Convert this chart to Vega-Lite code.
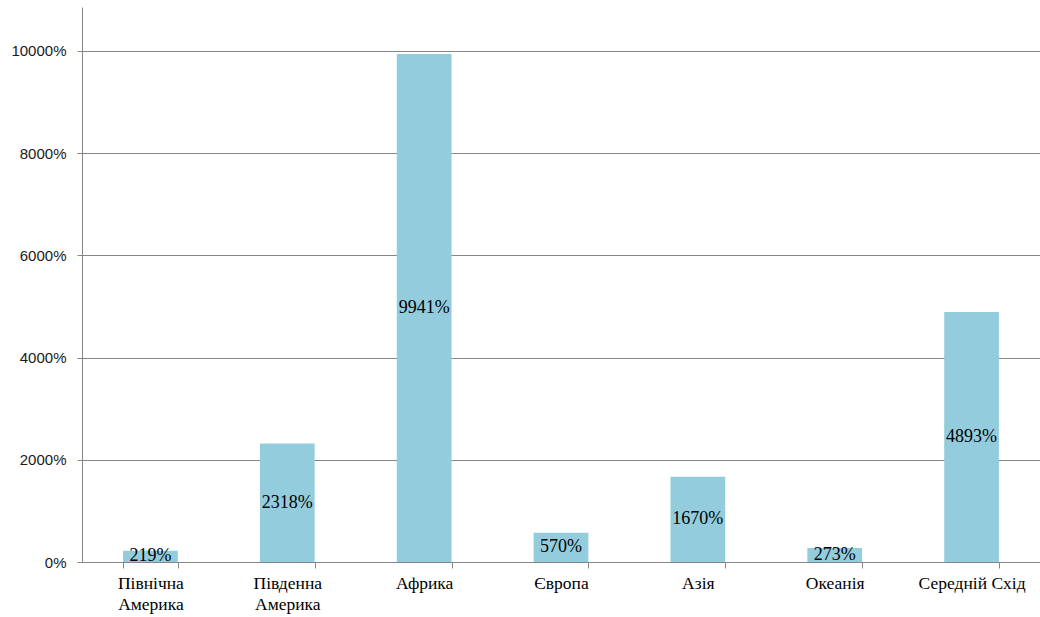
{
  "$schema": "https://vega.github.io/schema/vega-lite/v6.json",
  "width": 958,
  "height": 555,
  "autosize": {"type": "none"},
  "padding": {"left": 82, "top": 7, "right": 0, "bottom": 55},
  "background": "white",
  "config": {
    "view": {"stroke": null},
    "axis": {"domainColor": "#868686", "tickColor": "#868686", "gridColor": "#868686", "gridWidth": 1, "domainWidth": 1, "tickWidth": 1}
  },
  "data": {
    "values": [
      {"region": "Північна Америка", "value": 219},
      {"region": "Південна Америка", "value": 2318},
      {"region": "Африка", "value": 9941},
      {"region": "Європа", "value": 570},
      {"region": "Азія", "value": 1670},
      {"region": "Океанія", "value": 273},
      {"region": "Середній Схід", "value": 4893}
    ]
  },
  "transform": [
    {"calculate": "datum.value + '%'", "as": "label"},
    {"calculate": "datum.value / 2", "as": "mid"}
  ],
  "encoding": {
    "x": {
      "field": "region",
      "type": "nominal",
      "sort": null,
      "scale": {"paddingInner": 0.6, "paddingOuter": 0.3},
      "axis": {
        "title": null,
        "labelAngle": 0,
        "tickBand": "extent",
        "tickSize": 6,
        "labelPadding": 6,
        "labelFont": "Liberation Serif",
        "labelFontSize": 17.5,
        "labelColor": "#000000",
        "labelLineHeight": 21,
        "labelExpr": "indexof(datum.label, 'Америка') > 0 ? split(datum.label, ' ') : datum.label"
      }
    }
  },
  "layer": [
    {
      "mark": {"type": "bar", "color": "#93CDDD"},
      "encoding": {
        "y": {
          "field": "value",
          "type": "quantitative",
          "scale": {"domain": [0, 10860], "nice": false},
          "axis": {
            "title": null,
            "values": [0, 2000, 4000, 6000, 8000, 10000],
            "format": "d",
            "labelExpr": "datum.label + '%'",
            "grid": true,
            "tickSize": 5,
            "labelPadding": 11,
            "labelFont": "Liberation Sans",
            "labelFontSize": 15,
            "labelColor": "#1a1a1a"
          }
        }
      }
    },
    {
      "mark": {"type": "text", "font": "Liberation Serif", "fontSize": 18, "color": "#000000", "baseline": "middle", "align": "center"},
      "encoding": {
        "y": {"field": "mid", "type": "quantitative"},
        "text": {"field": "label"}
      }
    }
  ]
}
